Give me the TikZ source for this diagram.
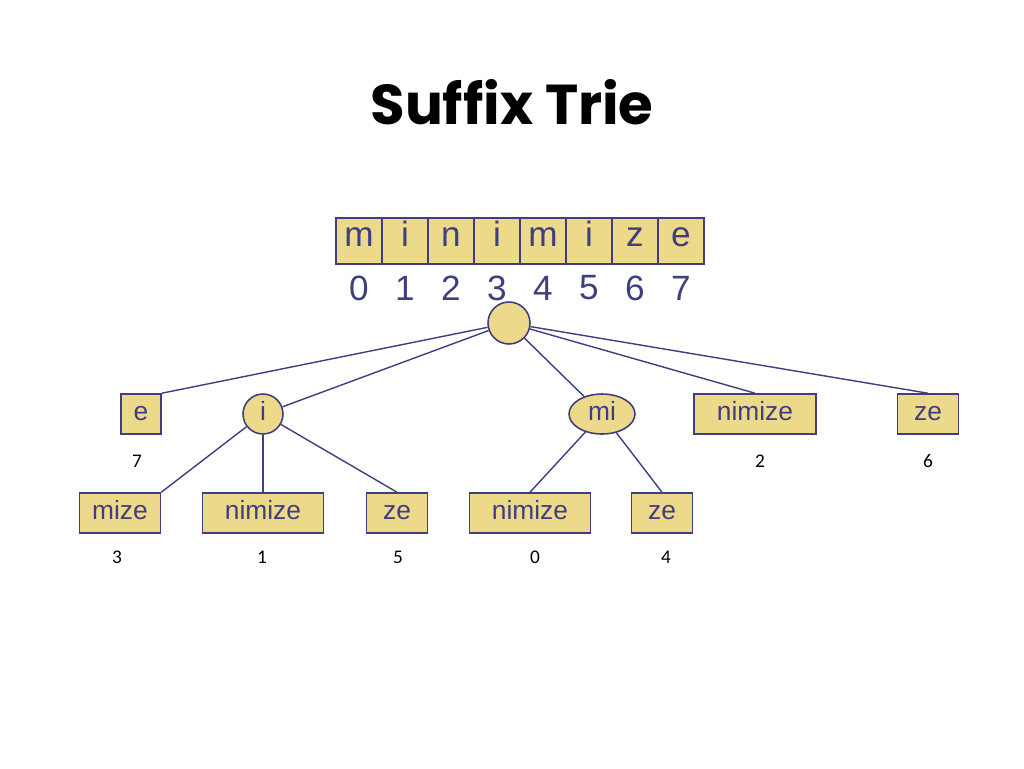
\documentclass[tikz,border=0pt]{standalone}
\usepackage{fontspec}
\setmainfont{Liberation Sans}
\newfontfamily\calfont{Carlito}
\newfontfamily\titlefont{Poppins}
\usetikzlibrary{positioning,shapes.geometric,backgrounds}
\definecolor{trieink}{HTML}{3F3F80}
\definecolor{triefill}{HTML}{EDD98A}
\tikzset{
  cellbox/.style={draw=trieink,fill=triefill,line width=0.9pt,minimum width=0.92cm,minimum height=0.92cm,inner sep=0pt,text height=1.5ex,text depth=0.3ex,text=trieink,font=\fontsize{20}{20}\selectfont},
  leafbox/.style={draw=trieink,fill=triefill,line width=0.9pt,minimum height=0.8cm,inner sep=3pt,text height=1.6ex,text depth=0.3ex,text=trieink,font=\fontsize{15}{15}\selectfont},
  innode/.style={draw=trieink,fill=triefill,line width=0.9pt,ellipse,minimum height=0.8cm,inner sep=1pt,text height=1.6ex,text depth=0.3ex,text=trieink,font=\fontsize{15}{15}\selectfont},
  idxlab/.style={text=trieink,font=\fontsize{20}{20}\selectfont},
  poslab/.style={font=\calfont\fontsize{11}{11}\selectfont},
  edge/.style={draw=trieink,line width=0.8pt}
}
\begin{document}
\begin{tikzpicture}[x=0.02cm,y=-0.02cm]
\useasboundingbox (0,0) rectangle (1024,768);
\node[font=\titlefont\bfseries\fontsize{32}{32}\selectfont] (title) at (512,102) {Suffix Trie};
% the string and its positions
\foreach \ch [count=\i from 0] in {m,i,n,i,m,i,z,e}{
  \node[cellbox] (c\i) at (359+\i*46,241) {\ch};
  \node[idxlab] (d\i) at (359+\i*46,288) {\i};
}
% trie nodes
\node[draw=trieink,fill=triefill,line width=0.9pt,circle,minimum size=0.84cm] (root) at (509,323) {};
\node[leafbox,minimum width=0.8cm] (e) at (141,414) {e};
\node[innode,minimum width=0.8cm] (i) at (263,414) {i};
\node[innode,minimum width=1.32cm] (mi) at (602,414) {mi};
\node[leafbox,minimum width=2.44cm] (nimize) at (755,414) {nimize};
\node[leafbox,minimum width=1.22cm] (ze) at (928,414) {ze};
\node[leafbox,minimum width=1.62cm] (imize) at (120,513) {mize};
\node[leafbox,minimum width=2.42cm] (inimize) at (263,513) {nimize};
\node[leafbox,minimum width=1.22cm] (ize) at (397,513) {ze};
\node[leafbox,minimum width=2.42cm] (minimize) at (530,513) {nimize};
\node[leafbox,minimum width=1.22cm] (mize) at (662,513) {ze};
% suffix start positions
\node[poslab] (pe) at (137,461) {7};
\node[poslab] (pn) at (760,461) {2};
\node[poslab] (pz) at (928,461) {6};
\node[poslab] (pim) at (117,557) {3};
\node[poslab] (pin) at (262,557) {1};
\node[poslab] (piz) at (398,557) {5};
\node[poslab] (pmn) at (535,557) {0};
\node[poslab] (pmz) at (666,557) {4};
% edges
\begin{scope}[on background layer]
\draw[edge] (root) -- (e.north east);
\draw[edge] (root) -- (i);
\draw[edge] (root) -- (mi);
\draw[edge] (root) -- (nimize.north);
\draw[edge] (root) -- (ze.north);
\draw[edge] (i) -- (imize.north east);
\draw[edge] (i) -- (inimize.north);
\draw[edge] (i) -- (ize.north);
\draw[edge] (mi) -- (minimize.north);
\draw[edge] (mi) -- (mize.north);
\end{scope}
\end{tikzpicture}
\end{document}
